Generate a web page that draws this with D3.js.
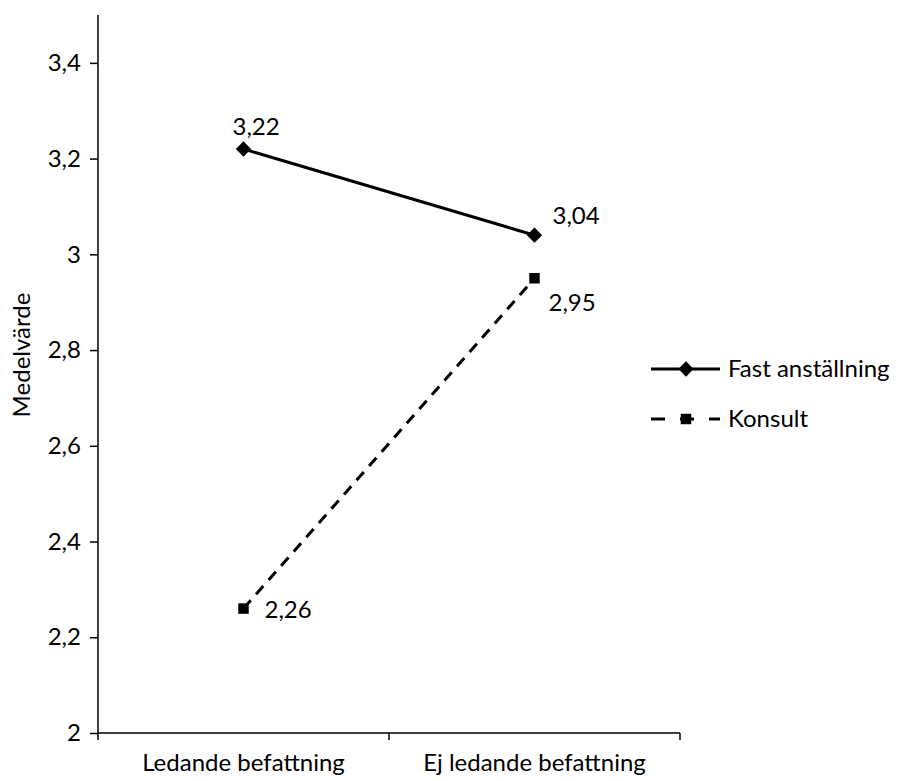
<!DOCTYPE html>
<html>
<head>
<meta charset="utf-8">
<script src="https://cdn.jsdelivr.net/npm/d3@7"></script>
<style>
  body { margin: 0; background: #fff; }
  svg text { font-family: Lato, "Open Sans", sans-serif; fill: #000; }
</style>
</head>
<body>
<div id="chart"></div>
<script>
// Categories and series
const categories = ["Ledande befattning", "Ej ledande befattning"];
const fastValues = [3.22, 3.04];
const konsultValues = [2.26, 2.95];
const seriesNames = ["Fast anställning", "Konsult"];
const yTicks = [2, 2.2, 2.4, 2.6, 2.8, 3, 3.2, 3.4];

const width = 898, height = 781;
const margin = { top: 15, right: 218, bottom: 48, left: 98 };
const fontSize = 24;

const svg = d3.select("#chart")
    .append("svg")
    .attr("width", width)
    .attr("height", height);

// Scales
const xScale = d3.scaleBand()
    .domain(categories)
    .range([margin.left, width - margin.right]);

const yScale = d3.scaleLinear()
    .domain([2, 3.5])
    .range([height - margin.bottom, margin.top]);

const fmt = d => String(d).replace(".", ",");

// Y axis
const yAxis = svg.append("g")
    .attr("transform", "translate(" + margin.left + ",0)")
    .call(d3.axisLeft(yScale).tickValues(yTicks).tickSize(8).tickPadding(9).tickFormat(fmt));
yAxis.select(".domain").attr("stroke-width", 1.5).attr("d", "M0," + yScale(3.5) + "V" + yScale(2));
yAxis.selectAll(".tick line").attr("stroke-width", 1.5);
yAxis.selectAll("text").attr("font-size", fontSize).style("font-family", "Lato, sans-serif");

// X axis with ticks at band boundaries
const xAxisG = svg.append("g")
    .attr("transform", "translate(0," + yScale(2) + ")");
xAxisG.append("line")
    .attr("x1", xScale.range()[0]).attr("x2", xScale.range()[1])
    .attr("stroke", "#000").attr("stroke-width", 1.5);
const bounds = categories.map(c => xScale(c)).concat([xScale.range()[1]]);
xAxisG.selectAll(".bt").data(bounds).enter().append("line")
    .attr("x1", d => d).attr("x2", d => d)
    .attr("y1", 0).attr("y2", 7)
    .attr("stroke", "#000").attr("stroke-width", 1.5);
xAxisG.selectAll(".cl").data(categories).enter().append("text")
    .attr("x", d => xScale(d) + xScale.bandwidth() / 2)
    .attr("y", 38)
    .attr("text-anchor", "middle")
    .attr("font-size", fontSize)
    .text(d => d);

// Y axis title
svg.append("text")
    .attr("transform", "translate(30,355) rotate(-90)")
    .attr("text-anchor", "middle")
    .attr("font-size", fontSize)
    .text("Medelvärde");

const cx = d => xScale(d) + xScale.bandwidth() / 2;
const fastData = categories.map((c, i) => ({ c: c, v: fastValues[i] }));
const konsultData = categories.map((c, i) => ({ c: c, v: konsultValues[i] }));

const line = d3.line().x(d => cx(d.c)).y(d => yScale(d.v));

// Lines
svg.append("path")
    .datum(fastData)
    .attr("d", line)
    .attr("fill", "none")
    .attr("stroke", "#000")
    .attr("stroke-width", 3);

svg.append("path")
    .datum(konsultData)
    .attr("d", line)
    .attr("fill", "none")
    .attr("stroke", "#000")
    .attr("stroke-width", 3)
    .attr("stroke-dasharray", "11,8");

// Markers
const diamond = d3.symbol().type(d3.symbolDiamond2).size(150);
const square = d3.symbol().type(d3.symbolSquare).size(110);

svg.selectAll(".fm").data(fastData).enter().append("path")
    .attr("d", diamond)
    .attr("transform", d => "translate(" + cx(d.c) + "," + yScale(d.v) + ")")
    .attr("fill", "#000");

svg.selectAll(".km").data(konsultData).enter().append("path")
    .attr("d", square)
    .attr("transform", d => "translate(" + cx(d.c) + "," + yScale(d.v) + ")")
    .attr("fill", "#000");

// Data labels
const fastOffsets = [[-11, -22], [18, -20]];
const konsultOffsets = [[21, 1], [14, 24]];
svg.selectAll(".fl").data(fastData).enter().append("text")
    .attr("x", (d, i) => cx(d.c) + fastOffsets[i][0])
    .attr("y", (d, i) => yScale(d.v) + fastOffsets[i][1])
    .attr("dy", "0.35em")
    .attr("font-size", fontSize)
    .text(d => fmt(d.v));
svg.selectAll(".kl").data(konsultData).enter().append("text")
    .attr("x", (d, i) => cx(d.c) + konsultOffsets[i][0])
    .attr("y", (d, i) => yScale(d.v) + konsultOffsets[i][1])
    .attr("dy", "0.35em")
    .attr("font-size", fontSize)
    .text(d => fmt(d.v));

// Legend
const legend = svg.append("g").attr("transform", "translate(651,369)");
const legendRows = [
    { name: seriesNames[0], dash: null, sym: diamond },
    { name: seriesNames[1], dash: "14,15", sym: square }
];
legendRows.forEach((r, i) => {
    const g = legend.append("g").attr("transform", "translate(0," + i * 50 + ")");
    g.append("line")
        .attr("x1", 0).attr("x2", 69)
        .attr("stroke", "#000").attr("stroke-width", 3)
        .attr("stroke-dasharray", r.dash);
    g.append("path")
        .attr("d", r.sym)
        .attr("transform", "translate(35,0)")
        .attr("fill", "#000");
    g.append("text")
        .attr("x", 77)
        .attr("dy", "0.35em")
        .attr("font-size", fontSize)
        .text(r.name);
});
</script>
</body>
</html>
